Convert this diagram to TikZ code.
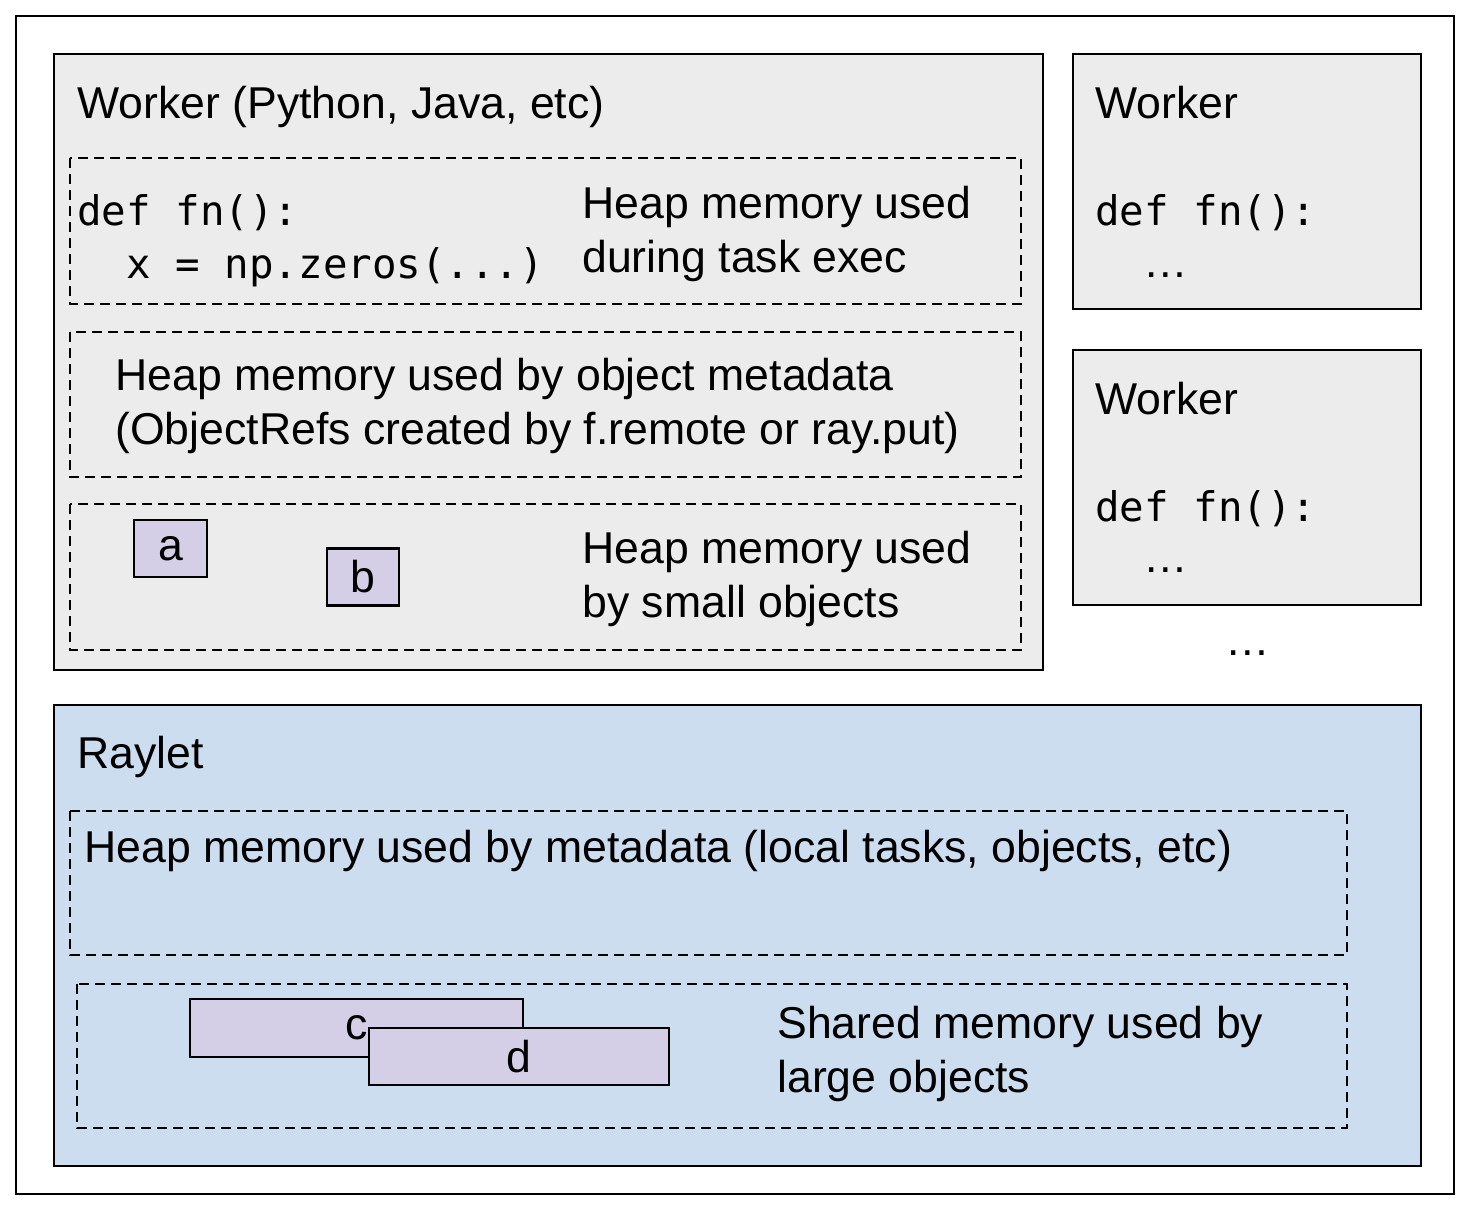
\documentclass[tikz,border=0pt]{standalone}
\usepackage{fontspec}
\setmainfont{Liberation Sans}
\newfontfamily\codefont{DejaVu Sans Mono}
\definecolor{workergray}{HTML}{ECECEC}
\definecolor{rayletblue}{HTML}{CCDDF0}
\definecolor{objpurple}{HTML}{D4CFE6}
\begin{document}
\begin{tikzpicture}[
    x=0.5pt, y=-0.5pt,
    every node/.style={font=\fontsize{22.3}{27}\selectfont, inner sep=0pt},
    label/.style={anchor=base west, align=left},
    code/.style={anchor=base west, align=left, font=\codefont\fontsize{20.4}{26.5}\selectfont},
    container/.style={draw, line width=1.2pt},
    region/.style={draw, line width=1pt, dash pattern=on 5pt off 3pt},
    object/.style={draw, line width=1.2pt, fill=objpurple, minimum height=28.5pt}
]
\useasboundingbox (0,0) rectangle (1464,1212);

% Outer frame
\draw[line width=1pt] (16,16) rectangle (1454,1194);

% Main worker (two-line labels sit on their last baseline)
\draw[container, fill=workergray] (54,54) rectangle (1043,670);
\node[label] (wtitle) at (77,118) {Worker (Python, Java, etc)};

\draw[region] (70,158) rectangle (1021,304);
\node[code] (fncode) at (77,278) {def fn():\\\hphantom{xx}x = np.zeros(...)};
\node[label] (taskheap) at (582,272) {Heap memory used\\during task exec};

\draw[region] (70,332) rectangle (1021,477);
\node[label] (metaheap) at (115,444) {Heap memory used by object metadata\\(ObjectRefs created by f.remote or ray.put)};

\draw[region] (70,504) rectangle (1021,650);
\node[object, minimum width=36.5pt] (a) at (170.5,548.5) {a};
\node[object, minimum width=36pt] (b) at (363,577) {b};
\node[label] (smallheap) at (582,617) {Heap memory used\\by small objects};

% Other workers
\draw[container, fill=workergray] (1073,54) rectangle (1421,309);
\node[label] (wtwotitle) at (1095,118) {Worker};
\node[code] (wtwocode) at (1095,225) {def fn():};
\node[label] (wtwomore) at (1143,277) {…};

\draw[container, fill=workergray] (1073,350) rectangle (1421,605);
\node[label] (wthreetitle) at (1095,414) {Worker};
\node[code] (wthreecode) at (1095,521) {def fn():};
\node[label] (wthreemore) at (1143,572) {…};

\node[label] (moreworkers) at (1225,655) {…};

% Raylet
\draw[container, fill=rayletblue] (54,705) rectangle (1421,1166);
\node[label] (rtitle) at (77,768) {Raylet};

\draw[region] (70,811) rectangle (1347,955);
\node[label] (rayletheap) at (84,862) {Heap memory used by metadata (local tasks, objects, etc)};

\draw[region] (77,984) rectangle (1347,1128);
\node[object, minimum width=166.5pt, minimum height=29pt] (c) at (356.5,1028) {c};
\node[object, minimum width=150pt] (d) at (519,1056.5) {d};
\node[label] (sharedmem) at (777,1092) {Shared memory used by\\large objects};

\end{tikzpicture}
\end{document}
